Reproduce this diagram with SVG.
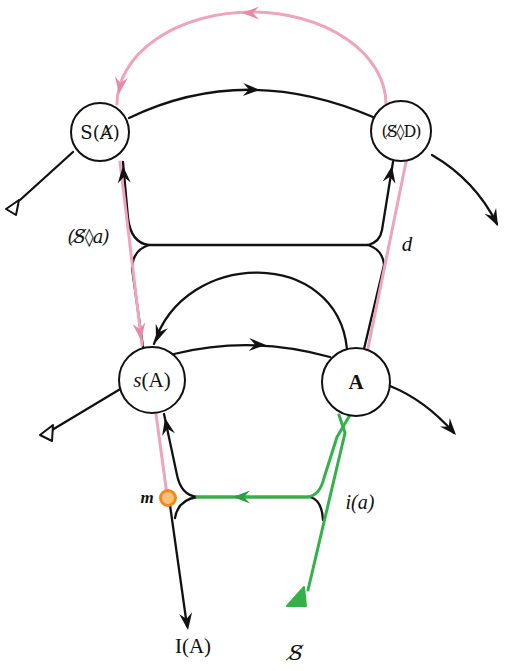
<svg xmlns="http://www.w3.org/2000/svg" xmlns:xlink="http://www.w3.org/1999/xlink" width="514" height="671" viewBox="0 0 514 671">
<style>
.ln{fill:none;stroke:#111;stroke-width:2.3;stroke-linecap:round}
.pk{fill:none;stroke:#eea4bc;stroke-width:3;stroke-linecap:round}
.gr{fill:none;stroke:#33b24a;stroke-width:3;stroke-linecap:round;stroke-linejoin:round}
.nd{fill:#fff;stroke:#111;stroke-width:2}
.tx{font-family:"Liberation Serif","DejaVu Serif",serif;font-size:20px;fill:#111;text-anchor:middle}
.dj{font-family:"DejaVu Serif","Liberation Serif",serif}
.it{font-style:italic}
.tri{fill:#fff;stroke:#111;stroke-width:2;stroke-linejoin:round}
</style>
<defs>
<path id="ah" d="M0,0 L-17,-6.5 L-11,0 L-17,6.5 Z"/>
</defs>
<rect width="514" height="671" fill="#fff"/>
<g id="connectors">
  <path class="ln" d="M129,118 Q245,62 373,117"/>
  <path class="ln" d="M73,152 L20,200"/>
  <polygon class="tri" points="6,209 19,200 16,215"/>
  <path class="ln" d="M432,155 Q475,180 497,224"/>
  <path class="ln" d="M123,162 L128,218 Q131,243 149,245 L368,245 Q380,242 382,230 L393,162"/>
  <path class="ln" d="M149,245 Q133,250 132,268 L143,347"/>
  <path class="ln" d="M368,245 Q383,250 384,265 L364,349"/>
  <path class="ln" d="M347,349 C337,248 185,248 154,344"/>
  <path class="ln" d="M174,354 Q252,335 330,357"/>
  <path class="ln" d="M122,388 L52,430"/>
  <polygon class="tri" points="40,435 53,425 52,441"/>
  <path class="ln" d="M390,386 Q425,400 454,433"/>
  <path class="ln" d="M164,414 L177,475 Q181,495 197,497 L310,497 Q322,500 323,520"/>
  <path class="ln" d="M197,497 Q178,500 175,518"/>
  <path class="ln" d="M170,505 L187,626"/>
  <path class="pk" d="M117,104 A134.5,92 0 0 1 386,104"/>
  <path class="pk" d="M120,162 L142,345"/>
  <path class="pk" d="M156,414 L167,495"/>
  <path class="pk" d="M406,162 L368,348"/>
  <path class="gr" d="M350,415 L337,437 L324,478 Q320,495 308,497 L197,497"/>
  <path class="gr" d="M339,415 L345,433 L308,590"/>
  <polygon points="287,606 306,606 304,587" fill="#33b24a" stroke="#33b24a" stroke-width="2" stroke-linejoin="round"/>
  <use xlink:href="#ah" href="#ah" transform="translate(260,90) rotate(2)" fill="#111"/>
  <use xlink:href="#ah" href="#ah" transform="translate(498,226) rotate(63)" fill="#111"/>
  <use xlink:href="#ah" href="#ah" transform="translate(123,166) rotate(-94)" fill="#111"/>
  <use xlink:href="#ah" href="#ah" transform="translate(392,166) rotate(-80)" fill="#111"/>
  <use xlink:href="#ah" href="#ah" transform="translate(242,13) rotate(180)" fill="#e58aa8"/>
  <use xlink:href="#ah" href="#ah" transform="translate(119,94) rotate(98)" fill="#e58aa8"/>
  <use xlink:href="#ah" href="#ah" transform="translate(141,340) rotate(83)" fill="#e58aa8"/>
  <use xlink:href="#ah" href="#ah" transform="translate(156,342) rotate(110)" fill="#111"/>
  <use xlink:href="#ah" href="#ah" transform="translate(266,345) rotate(2)" fill="#111"/>
  <use xlink:href="#ah" href="#ah" transform="translate(456,435) rotate(49)" fill="#111"/>
  <use xlink:href="#ah" href="#ah" transform="translate(165,418) rotate(-102)" fill="#111"/>
  <use xlink:href="#ah" href="#ah" transform="translate(233,497) rotate(180)" fill="#2a9e40"/>
  <use xlink:href="#ah" href="#ah" transform="translate(188,630) rotate(82)" fill="#111"/>
</g>
<g id="node-S-barred-A">
  <circle class="nd" cx="100" cy="132" r="29"/>
  <text class="tx dj" x="100" y="139" style="font-size:18px">S(Ⱥ)</text>
</g>
<g id="node-S-lozenge-D">
  <circle class="nd" cx="401" cy="131" r="30"/>
  <text class="tx dj" x="401" y="137" style="font-size:16px;letter-spacing:-1px">(S̸◊D)</text>
</g>
<g id="node-s-A">
  <circle class="nd" cx="152" cy="380" r="33"/>
  <text class="tx" x="152" y="387" style="font-size:21px"><tspan class="it">s</tspan>(A)</text>
</g>
<g id="node-A">
  <circle class="nd" cx="356" cy="382" r="34"/>
  <text class="tx" x="356" y="389" style="font-weight:bold;font-size:21px">A</text>
</g>
<g id="node-m">
  <circle cx="168" cy="498" r="7.5" fill="#f6c27a" stroke="#ee8a1e" stroke-width="3"/>
  <text class="tx it" x="147" y="503" style="font-size:17px;font-weight:bold">m</text>
</g>
<g id="node-S-lozenge-a">
  <text class="tx dj it" x="88" y="243" style="font-size:18px;letter-spacing:-1px">(S̸◊a)</text>
</g>
<g id="node-d">
  <text class="tx it" x="407" y="251" style="font-size:21px">d</text>
</g>
<g id="node-i-a">
  <text class="tx it" x="360" y="509" style="font-size:20px">i(a)</text>
</g>
<g id="node-I-A">
  <text class="tx" x="193" y="653" style="font-size:21px">I(A)</text>
</g>
<g id="node-S-barred">
  <text class="tx dj it" x="296" y="660" style="font-size:21px">S̸</text>
</g>
</svg>
